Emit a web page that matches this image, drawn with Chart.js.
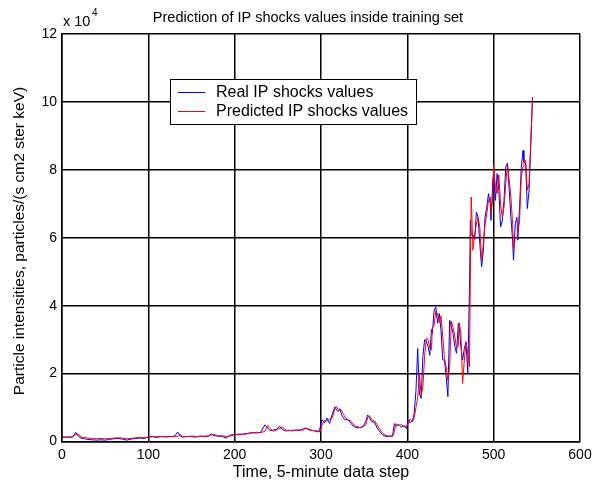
<!DOCTYPE html>
<html>
<head>
<meta charset="utf-8">
<script src="https://cdn.jsdelivr.net/npm/chart.js@4.4.1/dist/chart.umd.min.js"></script>
<style>
  html, body { margin: 0; padding: 0; background: #fff; }
  canvas { display: block; }
</style>
</head>
<body>
<canvas id="ipChart" width="602" height="483"></canvas>
<script>
// data step index (5-minute steps)
const steps = [0,4,8,12,16,19,22,26,30,35,40,45,50,55,60,65,70,75,80,85,90,95,
  100,105,110,115,120,125,130,134,137,140,145,150,155,160,165,170,173,176,180,185,190,195,
  200,205,210,215,220,225,230,235,238,241,245,249,252,255,259,263,267,271,275,279,282,286,290,294,297,299,
  301,304,307,310,313,316,318,320,322,324,326,328,331,334,337,340,343,346,349,352,354,356,359,362,365,368,371,374,377,380,383,385,387,390,393,396,399,
  401,403,406,408,410,412,414,416,418,420,422,424,426,428,429,431,433,435,437,439,441,443,445,447,449,451,453,455,457,459,460,462,464,466,468,470,472,473,474,476,478,480,482,484,486,488,490,492,494,496,497,499,
  500,502,504,506,508,510,512,514,516,518,520,522,523,525,527,528,530,532,534,535,537,539,541,545];

// values in units of 10^4
const realValues = [0.13,0.12,0.14,0.12,0.27,0.15,0.10,0.08,0.06,0.05,0.04,0.05,0.04,0.06,0.08,0.09,0.07,0.04,0.07,0.09,0.10,0.09,
  0.13,0.14,0.12,0.15,0.13,0.15,0.14,0.28,0.16,0.13,0.15,0.14,0.13,0.16,0.14,0.17,0.23,0.17,0.16,0.15,0.10,0.19,
  0.21,0.20,0.22,0.24,0.26,0.25,0.27,0.49,0.40,0.32,0.34,0.36,0.45,0.36,0.31,0.33,0.31,0.34,0.32,0.37,0.40,0.34,0.33,0.30,0.28,0.40,
  0.64,0.55,0.69,0.53,0.80,1.02,0.93,0.88,0.95,0.78,0.70,0.63,0.66,0.56,0.46,0.42,0.40,0.42,0.45,0.60,0.78,0.70,0.58,0.57,0.40,0.30,0.20,0.16,0.14,0.15,0.18,0.53,0.45,0.50,0.42,0.47,0.38,
  0.62,0.55,0.62,0.84,1.50,2.74,1.40,1.27,2.50,3.00,2.95,2.80,2.54,3.30,3.18,3.87,3.96,3.48,3.77,3.28,2.40,2.40,1.90,1.32,3.57,3.38,3.18,2.79,2.60,3.48,3.40,2.79,2.40,2.74,2.94,2.00,4.50,6.51,6.10,6.10,5.95,6.76,6.60,5.80,5.14,5.60,6.61,6.90,7.30,7.00,6.51,7.70,
  7.90,7.10,7.89,7.40,6.32,6.50,7.10,8.08,8.20,7.40,6.60,5.90,5.34,6.42,6.60,5.93,6.90,8.08,8.57,8.23,8.20,6.86,7.40,10.14];

const predictedValues = [0.15,0.13,0.12,0.14,0.20,0.22,0.13,0.12,0.10,0.09,0.08,0.09,0.08,0.09,0.10,0.11,0.10,0.08,0.09,0.11,0.12,0.11,
  0.13,0.15,0.14,0.14,0.15,0.14,0.16,0.15,0.21,0.15,0.14,0.16,0.15,0.15,0.16,0.16,0.19,0.21,0.17,0.17,0.15,0.16,
  0.20,0.22,0.21,0.23,0.25,0.27,0.26,0.30,0.47,0.38,0.30,0.35,0.38,0.43,0.34,0.31,0.34,0.32,0.35,0.33,0.38,0.37,0.32,0.32,0.30,0.29,
  0.48,0.62,0.60,0.66,0.70,0.95,1.03,0.92,0.97,0.90,0.80,0.72,0.62,0.62,0.52,0.45,0.43,0.40,0.44,0.50,0.70,0.76,0.64,0.60,0.50,0.36,0.26,0.19,0.17,0.16,0.15,0.30,0.52,0.47,0.50,0.44,0.45,
  0.52,0.66,0.58,0.70,1.00,1.30,2.00,1.35,1.60,2.50,3.05,3.00,2.75,2.70,3.35,3.40,3.85,3.75,3.50,3.70,3.10,2.45,2.20,1.80,2.20,3.55,3.35,3.10,2.75,2.80,3.50,3.20,1.71,2.40,2.90,2.60,2.20,5.00,7.20,5.63,6.10,6.40,6.60,6.30,5.34,5.80,6.40,6.70,7.10,7.20,6.70,7.20,
  8.13,7.50,7.30,7.85,7.00,6.60,6.90,7.60,8.13,7.70,7.20,6.40,5.63,6.00,6.00,6.20,6.50,7.80,8.10,8.30,8.28,7.40,7.60,10.10];

const seriesNames = ['Real IP shocks values', 'Predicted IP shocks values'];
const xTicks = [0, 100, 200, 300, 400, 500, 600];
const yTicks = [0, 2, 4, 6, 8, 10, 12];

const FONT = 'Liberation Sans, Arial, Helvetica, sans-serif';

function toPoints(xs, ys) {
  return xs.map((x, i) => ({ x: x, y: ys[i] }));
}

// y label, x 10^4 multiplier and the boxed legend, drawn over the plot
const extrasPlugin = {
  id: 'extras',
  afterDraw(chart) {
    const ctx = chart.ctx;
    ctx.save();
    ctx.fillStyle = '#000';

    // y axis label
    ctx.save();
    ctx.translate(20, 241);
    ctx.rotate(-Math.PI / 2);
    ctx.font = '15.5px ' + FONT;
    ctx.textAlign = 'center';
    ctx.textBaseline = 'middle';
    ctx.fillText('Particle intensities, particles/(s cm2 ster keV)', 0, 0);
    ctx.restore();

    // x 10^4
    ctx.font = '14.5px ' + FONT;
    ctx.textBaseline = 'alphabetic';
    ctx.textAlign = 'left';
    ctx.fillText('x 10', 63, 26);
    ctx.font = '10px ' + FONT;
    ctx.fillText('4', 92, 16);

    // legend
    const lx = 170, ly = 79, lw = 246, lh = 45;
    ctx.fillStyle = '#fff';
    ctx.fillRect(lx, ly, lw, lh);
    ctx.strokeStyle = '#000';
    ctx.lineWidth = 1;
    ctx.strokeRect(lx + 0.5, ly + 0.5, lw, lh);
    const colors = ['#0000ff', '#ff0000'];
    ctx.font = '16px ' + FONT;
    ctx.textBaseline = 'middle';
    seriesNames.forEach((name, i) => {
      const yy = ly + 13 + i * 19;
      ctx.strokeStyle = colors[i];
      ctx.beginPath();
      ctx.moveTo(178, yy + 0.5);
      ctx.lineTo(205, yy + 0.5);
      ctx.stroke();
      ctx.fillStyle = '#000';
      ctx.fillText(name, 216, yy + 1);
    });
    ctx.restore();
  }
};

const ctx = document.getElementById('ipChart').getContext('2d');
window.ipChart = new Chart(ctx, {
  type: 'line',
  data: {
    datasets: [{
      label: seriesNames[1],
      data: toPoints(steps, predictedValues),
      borderColor: '#ff0000',
      borderWidth: 1,
      pointRadius: 0,
      tension: 0,
      order: 0
    }, {
      label: seriesNames[0],
      data: toPoints(steps, realValues),
      borderColor: '#0000ff',
      borderWidth: 1,
      pointRadius: 0,
      tension: 0,
      order: 1
    }]
  },
  options: {
    responsive: false,
    animation: false,
    devicePixelRatio: 1,
    // left padding only shifts the title centre; the y scale keeps the chart area at x=62
    layout: { padding: { left: 36, right: 22, top: 0, bottom: 0 } },
    plugins: {
      legend: { display: false },
      tooltip: { enabled: false },
      title: {
        display: true,
        text: 'Prediction of IP shocks values inside training set',
        color: '#000',
        font: { family: FONT, size: 14.5, weight: 'normal' },
        padding: { top: 9, bottom: 7.6 }
      }
    },
    scales: {
      x: {
        type: 'linear',
        min: 0,
        max: 600,
        afterBuildTicks: (scale) => { scale.ticks = xTicks.map(v => ({ value: v })); },
        afterFit: (scale) => { scale.height = 41.5; },
        grid: { color: '#000', lineWidth: 1.5, drawTicks: false },
        border: { color: '#000', width: 1.5 },
        ticks: { color: '#000', padding: 5, maxRotation: 0, font: { family: FONT, size: 14 } },
        title: {
          display: true,
          text: 'Time, 5-minute data step',
          color: '#000',
          font: { family: FONT, size: 16 },
          padding: { top: 0, bottom: 0.5 }
        }
      },
      y: {
        type: 'linear',
        min: 0,
        max: 12,
        afterBuildTicks: (scale) => { scale.ticks = yTicks.map(v => ({ value: v })); },
        afterFit: (scale) => { scale.width = 26; },
        grid: { color: '#000', lineWidth: 1.5, drawTicks: false },
        border: { color: '#000', width: 1.5 },
        ticks: { color: '#000', padding: 5, font: { family: FONT, size: 14 } },
        title: { display: false }
      }
    }
  },
  plugins: [extrasPlugin]
});
</script>
</body>
</html>
